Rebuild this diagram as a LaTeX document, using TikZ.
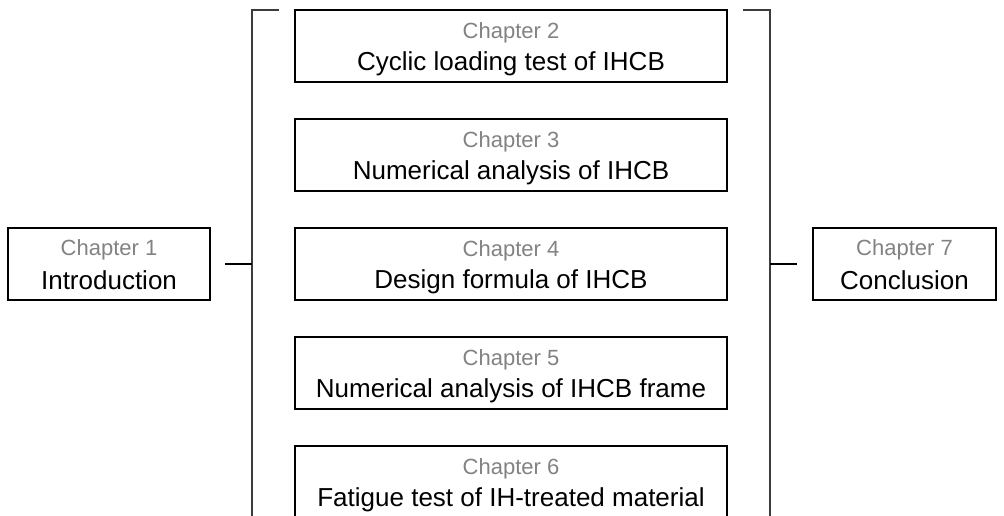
\documentclass[tikz,border=0pt]{standalone}
\usepackage{fontspec}
\setmainfont{Liberation Sans}
\definecolor{chapgray}{RGB}{130,130,130}
\definecolor{brackgray}{RGB}{60,60,60}
\begin{document}
\begin{tikzpicture}[x=0.75pt,y=-0.75pt,
  box/.style={draw=black,line width=1.4pt,inner sep=0pt,outer sep=0pt,anchor=north west},
  cbox/.style={box,minimum width=324pt,minimum height=54pt},
  chap/.style={font=\fontsize{16.5}{19}\selectfont,text=chapgray,anchor=base,inner sep=0pt},
  ttl/.style={font=\fontsize{19.5}{23}\selectfont,anchor=base,inner sep=0pt},
  brack/.style={draw=brackgray,line width=1.4pt},
  conn/.style={draw=black,line width=1.4pt}]
\useasboundingbox (0,0) rectangle (1004,515);
\clip (0,0) rectangle (1004,515);
% left and right boxes
\node[box,minimum width=151.5pt,minimum height=54pt] (c1) at (8,228) {};
\node[chap] (c1a) at (109,255.5) {Chapter 1};
\node[ttl] (c1b) at (109,289) {Introduction};
\node[box,minimum width=137.25pt,minimum height=54pt] (c7) at (813,228) {};
\node[chap] (c7a) at (904.5,255.5) {Chapter 7};
\node[ttl] (c7b) at (904.5,289) {Conclusion};
% centre boxes
\node[cbox] (c2) at (295,10) {};
\node[chap] (c2a) at (511,38) {Chapter 2};
\node[ttl] (c2b) at (511,70) {Cyclic loading test of IHCB};
\node[cbox] (c3) at (295,119) {};
\node[chap] (c3a) at (511,147) {Chapter 3};
\node[ttl] (c3b) at (511,179) {Numerical analysis of IHCB};
\node[cbox] (c4) at (295,228) {};
\node[chap] (c4a) at (511,256) {Chapter 4};
\node[ttl] (c4b) at (511,288) {Design formula of IHCB};
\node[cbox] (c5) at (295,337) {};
\node[chap] (c5a) at (511,365) {Chapter 5};
\node[ttl] (c5b) at (511,397) {Numerical analysis of IHCB frame};
\node[cbox] (c6) at (295,446) {};
\node[chap] (c6a) at (511,474) {Chapter 6};
\node[ttl] (c6b) at (511,506) {Fatigue test of IH-treated material};
% brackets
\coordinate (lt) at (279,10);
\coordinate (ltc) at (252,10);
\coordinate (lb) at (252,520);
\coordinate (rt) at (743,10);
\coordinate (rtc) at (770,10);
\coordinate (rb) at (770,520);
\draw[brack] (lt) -- (ltc) -- (lb);
\draw[brack] (rt) -- (rtc) -- (rb);
% connectors
\coordinate (ls) at (225,264);
\coordinate (le) at (252,264);
\coordinate (rs) at (770,264);
\coordinate (re) at (797,264);
\draw[conn] (ls) -- (le);
\draw[conn] (rs) -- (re);
\end{tikzpicture}
\end{document}
